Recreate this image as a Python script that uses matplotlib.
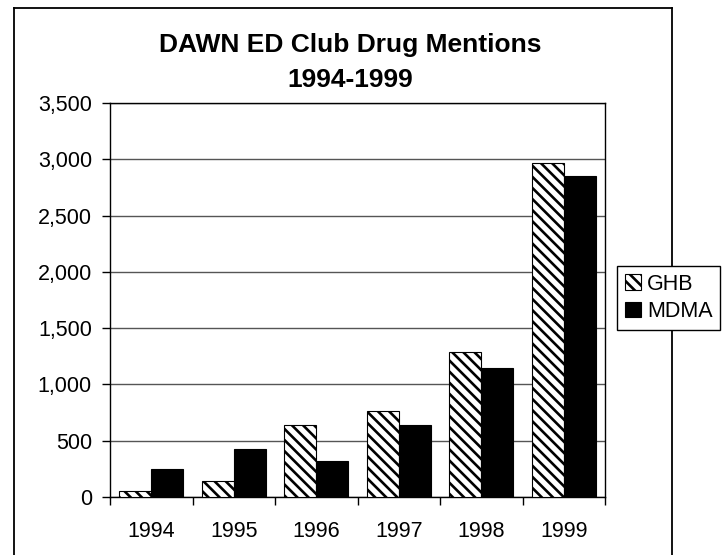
import matplotlib as mpl
mpl.use('Agg')
import matplotlib.pyplot as plt
from matplotlib.lines import Line2D
import numpy as np

years = ['1994', '1995', '1996', '1997', '1998', '1999']
ghb = [53, 139, 639, 764, 1285, 2966]
mdma = [251, 424, 320, 639, 1143, 2854]

plt.rcParams['font.family'] = ['Liberation Sans', 'DejaVu Sans']
plt.rcParams['hatch.linewidth'] = 1.9

fig = plt.figure(figsize=(7.28, 5.55), dpi=100)
ax = fig.add_axes([110/728, 1-497/555, 495/728, 394/555])

x = np.arange(len(years))
w = 0.39
ax.bar(x - w/2, ghb, w, color='white', edgecolor='black', hatch='\\\\\\',
       linewidth=0.8, label='GHB', zorder=3)
ax.bar(x + w/2, mdma, w, color='black', edgecolor='black',
       linewidth=0.8, label='MDMA', zorder=3)

ax.set_xlim(-0.5, len(years) - 0.5)
ax.set_ylim(0, 3500)
ax.set_yticks(range(0, 3501, 500))
ax.set_yticklabels(['{:,}'.format(v) for v in range(0, 3501, 500)])
ax.set_xticks(x)
ax.set_xticklabels(years)
ax.set_xticks(np.arange(-0.5, len(years)), minor=True)
ax.tick_params(axis='x', which='major', length=0, pad=17, labelsize=15.5)
ax.tick_params(axis='x', which='minor', length=6, width=1)
ax.tick_params(axis='y', length=6, width=1, pad=7, labelsize=15.5)
ax.yaxis.grid(True, color='#555555', linewidth=1, zorder=0)
for s in ax.spines.values():
    s.set_linewidth(1)
    s.set_color('black')

fig.text(350/728, 1 - 45/555, 'DAWN ED Club Drug Mentions', ha='center',
         va='center', fontsize=19, fontweight='bold')
fig.text(350/728, 1 - 80/555, '1994-1999', ha='center', va='center',
         fontsize=19, fontweight='bold')

# outer chart frame (bottom edge off the picture)
fl, fr, ft = 14/728, 672/728, 1 - 8/555
for xs, ys in [([fl, fl], [ft, -0.01]), ([fl, fr], [ft, ft]),
               ([fr, fr], [ft, -0.01])]:
    fig.add_artist(Line2D(xs, ys, color='black', linewidth=1.3,
                          transform=fig.transFigure, zorder=0))

leg = fig.legend(loc='upper left', bbox_to_anchor=(617/728, 1 - 266/555),
                 fontsize=15.5, frameon=True, fancybox=False, framealpha=1,
                 edgecolor='black', handlelength=0.75, handleheight=0.75,
                 handletextpad=0.3, borderpad=0.35, labelspacing=0.3,
                 borderaxespad=0)
leg.get_frame().set_linewidth(1)
leg.set_zorder(5)

fig.savefig('out.png', dpi=100)
